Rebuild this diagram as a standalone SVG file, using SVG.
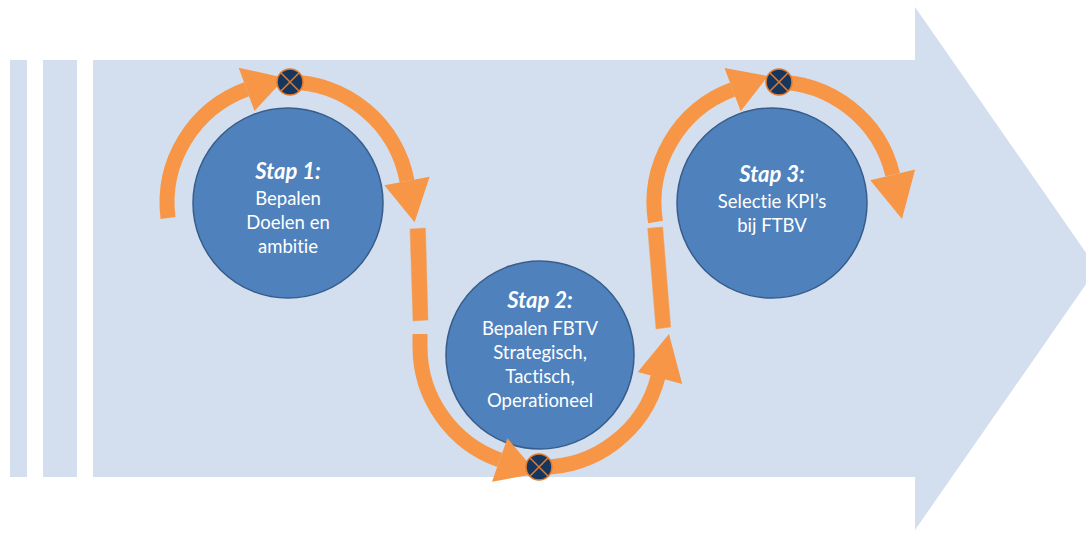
<svg xmlns="http://www.w3.org/2000/svg" width="1086" height="540" viewBox="0 0 1086 540">
  <style>
    .band { fill: #d3dfee; }
    .step { fill: #4f81bd; stroke: #385d8a; stroke-width: 1.5; }
    text { font-variant-ligatures: none; font-feature-settings: "liga" 0, "clig" 0; }
    .title { font-family: Lato, "Open Sans", sans-serif; font-size: 22px; font-weight: bold; font-style: italic; fill: #ffffff; text-anchor: middle; }
    .body { font-family: Lato, "Open Sans", sans-serif; font-size: 18.5px; fill: #ffffff; text-anchor: middle; }
    .flow { fill: none; stroke: #f79646; stroke-width: 15; }
    .head { fill: #f79646; }
    .dash { fill: #f79646; stroke: #e9a46c; stroke-width: 0.5; }
    .junction { fill: #17365d; stroke: #e07b30; stroke-width: 1.5; }
    .junction-x { stroke: #e07b30; stroke-width: 1.5; }
  </style>

  <rect width="1086" height="540" fill="#ffffff"/>

  <!-- background: two slim bars and the large process arrow -->
  <g id="background">
    <rect class="band" x="10" y="60" width="17" height="417"/>
    <rect class="band" x="43" y="60" width="34" height="417"/>
    <polygon class="band" points="93,60 915,60 915,7 1097,268.5 915,530 915,477 93,477"/>
  </g>

  <!-- step nodes -->
  <g id="step1">
    <circle class="step" cx="288" cy="203" r="95"/>
    <text class="title" x="288" y="179">Stap 1:</text>
    <text class="body" x="288" y="205">Bepalen</text>
    <text class="body" x="288" y="229">Doelen en</text>
    <text class="body" x="288" y="253">ambitie</text>
  </g>

  <g id="step2">
    <circle class="step" cx="540" cy="355" r="94"/>
    <text class="title" x="540" y="308">Stap 2:</text>
    <text class="body" x="540" y="335">Bepalen FBTV</text>
    <text class="body" x="540" y="359">Strategisch,</text>
    <text class="body" x="540" y="383">Tactisch,</text>
    <text class="body" x="540" y="407">Operationeel</text>
  </g>

  <g id="step3">
    <circle class="step" cx="772" cy="203" r="95"/>
    <text class="title" x="772" y="182">Stap 3:</text>
    <text class="body" x="772" y="208">Selectie KPI’s</text>
    <text class="body" x="772" y="232">bij FTBV</text>
  </g>

  <!-- orange flow connectors -->
  <g id="connectors">
    <!-- around step 1 -->
    <path class="flow" d="M 168 218 A 121 121 0 0 1 246.6 89.3"/>
    <polygon class="head" points="238.7,67.7 254.5,110.9 285,78"/>
    <path class="flow" d="M 288 82 A 121 121 0 0 1 407 181"/>
    <polygon class="head" points="384.4,185.2 429.6,176.8 414.6,222.3"/>
    <polygon class="dash" points="410,229 425.5,228 428,320 413,321"/>

    <!-- around step 2 -->
    <path class="flow" d="M 420 334 L 420 347 A 120 120 0 0 0 499.7 460"/>
    <polygon class="head" points="507.4,438.3 492,481.7 537.4,473.4"/>
    <path class="flow" d="M 540 467 A 120 120 0 0 0 658 377"/>
    <polygon class="head" points="637.8,372 682.2,384 669,334"/>
    <polygon class="dash" points="647.7,228.3 662.7,227 670.7,327 656,329"/>

    <!-- around step 3 -->
    <path class="flow" d="M 655.5 222 A 121 121 0 0 1 732.6 89.6"/>
    <polygon class="head" points="724.5,68 740.7,111.2 768,76"/>
    <path class="flow" d="M 775 82 A 121 121 0 0 1 892.7 174.8"/>
    <polygon class="head" points="870.3,180.2 915.1,169.4 902,219"/>

    <!-- junction markers -->
    <g id="junction1">
      <circle class="junction" cx="290" cy="82" r="13"/>
      <path class="junction-x" d="M 280.8 72.8 L 299.2 91.2 M 299.2 72.8 L 280.8 91.2"/>
    </g>
    <g id="junction2">
      <circle class="junction" cx="539" cy="467" r="13"/>
      <path class="junction-x" d="M 529.8 457.8 L 548.2 476.2 M 548.2 457.8 L 529.8 476.2"/>
    </g>
    <g id="junction3">
      <circle class="junction" cx="779" cy="82" r="13"/>
      <path class="junction-x" d="M 769.8 72.8 L 788.2 91.2 M 788.2 72.8 L 769.8 91.2"/>
    </g>
  </g>
</svg>
